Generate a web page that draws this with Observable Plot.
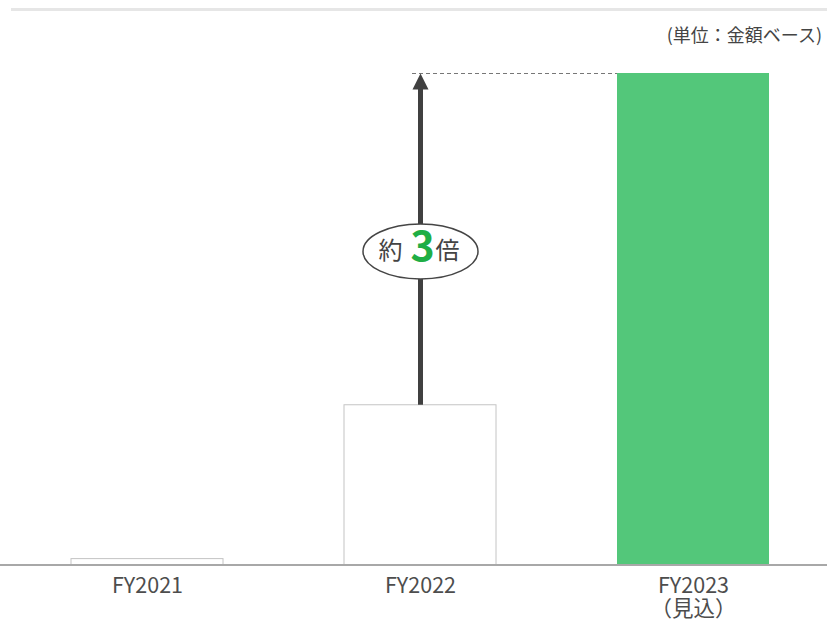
<!DOCTYPE html>
<html><head><meta charset="utf-8">
<script src="https://cdn.jsdelivr.net/npm/d3@7"></script>
<script src="https://cdn.jsdelivr.net/npm/@observablehq/plot@0.6"></script>
<style>
html,body{margin:0;padding:0;background:#fff;}
body{font-family:"Noto Sans CJK JP",sans-serif;width:827px;height:624px;overflow:hidden;}
#head{position:relative;height:50px;}
#topline{position:absolute;left:11px;right:0;top:8px;height:3px;background:#e6e6e6;}
#unit{position:absolute;right:5px;top:22px;font-size:18px;color:#444;line-height:24px;white-space:nowrap;}
#chart svg{display:block;}
</style></head><body>
<div id="head"><div id="topline"></div><div id="unit"></div></div>
<div id="chart"></div>
<script>
// ---- data ----
const categories = ["FY2021", "FY2022", "FY2023"];
const tickLabels = ["FY2021", "FY2022", "FY2023\n（見込）"];
const values = [1.2, 32.5, 100];
const highlight = [false, false, true];
const unitLabel = "(単位：金額ベース)";
const multipleParts = ["約", "3", "倍"];
const arrowFrom = {category: "FY2022", value: 32.5};
const arrowTo = {category: "FY2023", value: 100};
const labelValue = 63.8;

document.getElementById("unit").textContent = unitLabel;

const data = categories.map((c, i) => ({cat: c, value: values[i], hl: highlight[i]}));

const green = "#53c77a";
const dark = "#404040";

const arrowHead = {draw(ctx) { ctx.moveTo(0, 0); ctx.lineTo(8, 16); ctx.lineTo(-8, 16); ctx.closePath(); }};
const ellipse = {draw(ctx) {
  const rx = 57.5, ry = 27.5, k = 0.5523;
  ctx.moveTo(rx, 0);
  ctx.bezierCurveTo(rx, ry * k, rx * k, ry, 0, ry);
  ctx.bezierCurveTo(-rx * k, ry, -rx, ry * k, -rx, 0);
  ctx.bezierCurveTo(-rx, -ry * k, -rx * k, -ry, 0, -ry);
  ctx.bezierCurveTo(rx * k, -ry, rx, -ry * k, rx, 0);
  ctx.closePath();
}};

// y1 = top (arrow tip value), y2 = bottom (start value)
const arrowData = [{x: arrowFrom.category, top: arrowTo.value, bottom: arrowFrom.value}];
const dashData = [{x1: arrowFrom.category, x2: arrowTo.category, y: arrowTo.value}];
const labelData = [{x: arrowFrom.category, y: labelValue}];

const chart = Plot.plot({
  width: 827,
  height: 574,
  marginLeft: 0,
  marginRight: 0,
  marginTop: 23,
  marginBottom: 59.5,
  style: {fontFamily: '"Noto Sans CJK JP", sans-serif', background: "white"},
  x: {domain: categories, range: [9.75, 830], paddingInner: 0.444, paddingOuter: 0.222, align: 0.5, axis: null},
  y: {domain: [0, 100], axis: null},
  marks: [
    Plot.ruleY(dashData, {x1: "x1", x2: "x2", y: "y", stroke: "#777", strokeWidth: 1, strokeDasharray: "4,3", insetLeft: 68, insetRight: 151}),
    Plot.barY(data.filter(d => !d.hl), {x: "cat", y: "value", fill: "white", stroke: "#c4c4c4", strokeWidth: 1}),
    Plot.barY(data.filter(d => d.hl), {x: "cat", y: "value", fill: green}),
    Plot.ruleY([0], {stroke: "#a8a8a8", strokeWidth: 2}),
    Plot.ruleX(arrowData, {x: "x", y1: "top", y2: "bottom", stroke: dark, strokeWidth: 5, insetTop: 12}),
    Plot.dot(arrowData, {x: "x", y: "top", symbol: arrowHead, fill: dark, stroke: "none"}),
    Plot.dot(labelData, {x: "x", y: "y", symbol: ellipse, fill: "white", stroke: "#454545", strokeWidth: 1.5}),
    Plot.text(labelData, {x: "x", y: "y", text: () => multipleParts[0], dx: -30, fontSize: 24, fill: "#444"}),
    Plot.text(labelData, {x: "x", y: "y", text: () => multipleParts[1], dx: 2, dy: -4, fontSize: 41, fontWeight: "bold", fill: "#1fae45"}),
    Plot.text(labelData, {x: "x", y: "y", text: () => multipleParts[2], dx: 27, fontSize: 24, fill: "#444"}),
    Plot.axisX({tickSize: 0, tickPadding: 11, tickFormat: d => tickLabels[categories.indexOf(d)], fontSize: 21.5, fill: "#4d4d4d", lineHeight: 1.1, label: null})
  ]
});
document.getElementById("chart").appendChild(chart);
</script>
</body></html>
